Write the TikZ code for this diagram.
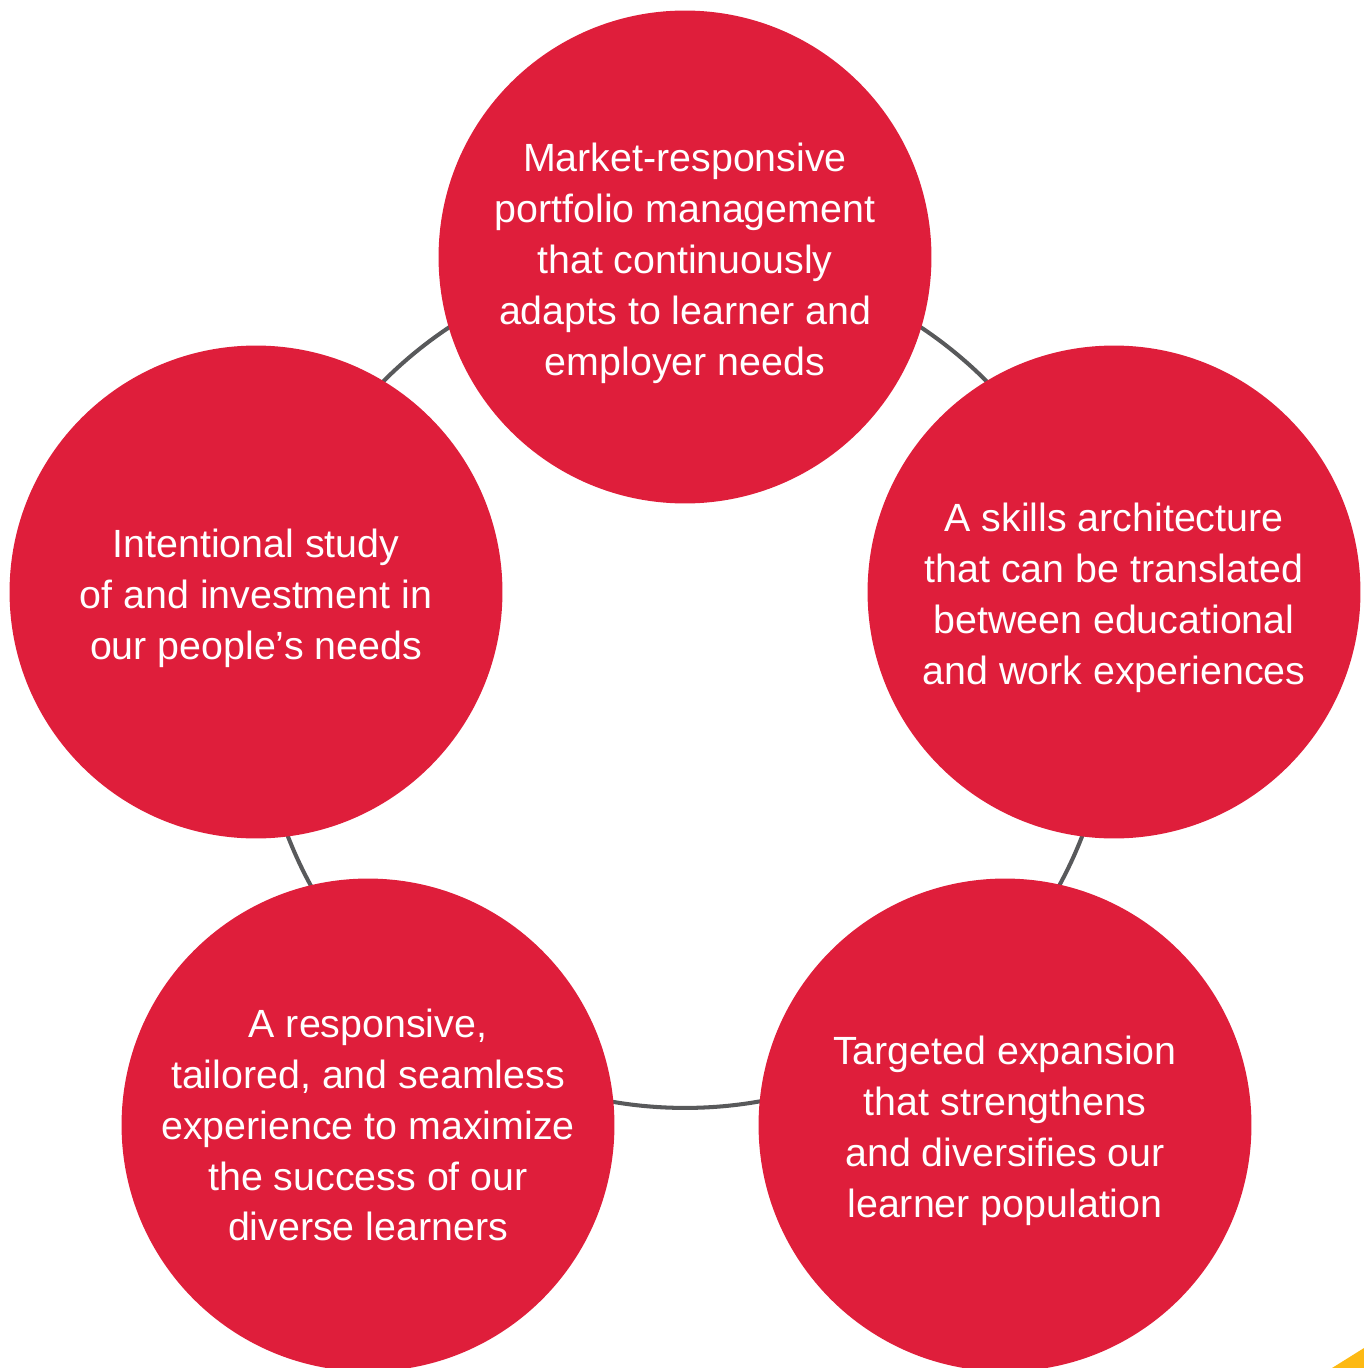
\documentclass[tikz,border=0pt]{standalone}
\usepackage{fontspec}
\setmainfont{Liberation Sans}
\definecolor{goalred}{HTML}{DF1E3B}
\definecolor{ringgrey}{HTML}{58595B}
\definecolor{cornergold}{HTML}{FDB913}
\newcommand\goalgap{\rule{0pt}{23pt}}
\tikzset{
  goal/.style={circle, fill=goalred, text=white, minimum size=9.86cm,
    inner sep=0pt, align=center, font=\fontsize{22.4}{29}\selectfont},
  ring/.style={draw=ringgrey, line width=2.3pt}
}
\begin{document}
\begin{tikzpicture}[x=0.02cm,y=-0.02cm]
      \useasboundingbox (0,0) rectangle (1364,1368);
      \clip (0,0) rectangle (1364,1368);
      \coordinate (hub) at (685,682);
      \draw[ring] (hub) circle (8.52cm);
      \draw
        (685,257) node[goal] (portfolio){\goalgap Market-responsive\\portfolio management\\that continuously\\adapts to learner and\\employer needs}
        (1114,592) node[goal] (skills){\goalgap A skills architecture\\that can be translated\\between educational\\and work experiences}
        (1005,1125) node[goal] (expansion){\goalgap Targeted expansion\\that strengthens\\and diversifies our\\learner population}
        (368,1125) node[goal] (experience){A responsive,\\tailored, and seamless\\experience to maximize\\the success of our\\diverse learners}
        (256,592) node[goal] (people){\goalgap Intentional study\\of and investment in\\our people’s needs};
      \fill[cornergold] (1332,1368) -- (1364,1348) -- (1364,1368) -- cycle;
    \end{tikzpicture}
\end{document}
